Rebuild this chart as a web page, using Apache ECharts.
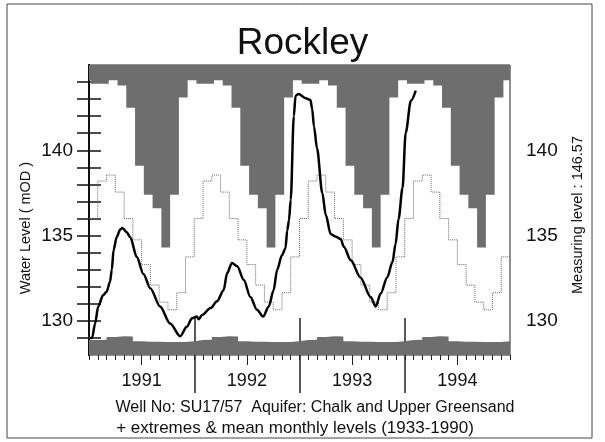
<!DOCTYPE html>
<html>
<head>
<meta charset="utf-8">
<title>Rockley</title>
<script src="https://cdn.jsdelivr.net/npm/echarts@6/dist/echarts.min.js"></script>
<style>
  html, body { margin: 0; padding: 0; background: #fff; }
  #chart { width: 605px; height: 442px; }
</style>
</head>
<body>
<div id="chart"></div>
<script>
// years shown on the x axis (x = months since Jan 1991)
var years = [1991, 1992, 1993, 1994];
var yearMidTicks = [6, 18, 30, 42];
var yearBounds = [12, 24, 36];

// y axis ticks (mOD)
var yTicks = [129, 130, 131, 132, 133, 134, 135, 136, 137, 138, 139, 140, 141, 142, 143, 144];
var yTickLabels = [130, 135, 140];

// extremes & mean monthly levels 1933-1990 (Jan..Dec)
var maxMonthly = [143.9, 143.9, 144.1, 143.8, 142.5, 139.1, 137.4, 136.6, 134.3, 137.4, 143.1, 144.1];
var meanMonthly = [136.0, 138.2, 138.55, 137.55, 136.0, 134.75, 133.3, 132.1, 131.1, 130.65, 131.65, 133.75];
var minMonthly = [128.88, 128.9, 129.05, 129.1, 129.08, 128.8, 128.78, 128.77, 128.76, 128.76, 128.76, 128.8];

// observed water level 1991 - early 1994
var obsMonth = [0.1, 0.35, 0.7, 1.05, 1.6, 2.0, 2.4, 2.6, 2.8, 3.15, 3.55, 3.8, 4.3, 4.7, 5.45,
  6.2, 7.0, 8.1, 9.25, 10.4, 11.15, 11.75, 12.3, 12.5, 12.9, 13.85, 14.6, 15.35, 15.75, 16.3,
  16.9, 17.65, 18.4, 19.15, 19.85, 20.5, 21.05, 21.45, 22.0, 22.4, 22.6, 22.8, 23.0, 23.35, 23.55,
  23.9, 24.7, 25.25, 25.45, 25.65, 26.0, 26.6, 27.0, 27.55, 28.1, 28.7, 29.05, 29.85, 30.95, 32.1,
  32.7, 33.25, 34.0, 34.6, 34.95, 35.3, 35.75, 36.1, 36.7, 37.25];
var obsLevel = [129.0, 129.0, 129.85, 130.85, 131.5, 131.7, 132.3, 133.0, 134.15, 134.9, 135.35, 135.45, 135.2, 134.9, 133.75,
  132.75, 131.9, 130.85, 129.85, 129.1, 129.65, 130.15, 130.25, 130.1, 130.35, 130.75, 131.15, 131.8, 132.8, 133.4,
  133.2, 132.4, 131.4, 130.65, 130.25, 130.85, 131.8, 133.0, 133.85, 134.25, 135.3, 135.9, 137.1, 142.0, 143.2,
  143.3, 143.05, 142.95, 142.4, 141.4, 140.1, 137.5, 136.2, 135.1, 134.95, 134.8, 134.35, 133.55, 132.55, 131.4,
  130.85, 131.6, 132.55, 133.45, 134.5, 136.0, 137.8, 141.0, 142.9, 143.5];

var FONT = '"Liberation Sans", Arial, Helvetica, sans-serif';
var maxShift = 0.25; // max steps sit a little right of the month boundary in the original

// monthly step series over the 4 years
function monthlySteps(values, shift) {
  var pts = [];
  if (shift) pts.push([0, values[11]]);
  for (var m = 0; m < years.length * 12; m++) {
    pts.push([m + shift, values[m % 12]]);
  }
  pts.push([years.length * 12, values[11]]);
  return pts;
}

var observed = obsMonth.map(function (m, i) { return [m, obsLevel[i]]; });

var chart = echarts.init(document.getElementById('chart'), null, { renderer: 'canvas' });

function xAxisBase(extra) {
  var a = {
    type: 'value', min: 0, max: 48, position: 'bottom', gridIndex: 0,
    axisLine: { show: false },
    axisTick: { show: false },
    axisLabel: { show: false },
    splitLine: { show: false }
  };
  return Object.assign(a, extra);
}

function yAxisBase(pos) {
  return {
    type: 'value', min: 128, max: 145, interval: 1, position: pos,
    axisLine: { show: true, lineStyle: { color: '#111', width: 2 } },
    axisTick: { show: true, customValues: yTicks, length: 12, lineStyle: { color: '#111', width: 1.5 } },
    axisLabel: {
      customValues: yTickLabels, fontSize: 19, color: '#111', fontFamily: FONT, margin: 16
    },
    splitLine: { show: false }
  };
}

var option = {
  animation: false,
  backgroundColor: '#fff',
  title: {
    text: 'Rockley', left: 'center', top: 20,
    textStyle: { fontSize: 37, fontWeight: 'normal', color: '#111', fontFamily: FONT }
  },
  grid: {
    left: 89, right: 95, top: 65, bottom: 87,
    show: true, borderColor: '#222', borderWidth: 1, backgroundColor: 'transparent'
  },
  xAxis: [
    // monthly ticks
    xAxisBase({
      interval: 1,
      axisTick: { show: true, length: 5, lineStyle: { color: '#222', width: 1 } }
    }),
    // mid-year ticks + year labels
    xAxisBase({
      axisTick: { show: true, customValues: yearMidTicks, length: 10, lineStyle: { color: '#222', width: 1 } },
      axisLabel: {
        show: true, customValues: yearMidTicks, margin: 17, fontSize: 18, color: '#111', fontFamily: FONT,
        formatter: function (v) { return String(years[yearMidTicks.indexOf(v)]); }
      }
    }),
    // year separators, inside part
    xAxisBase({
      axisTick: { show: true, inside: true, customValues: yearBounds, length: 37, lineStyle: { color: '#222', width: 1.5 } }
    }),
    // year separators, outside part
    xAxisBase({
      axisTick: { show: true, customValues: yearBounds, length: 38, lineStyle: { color: '#222', width: 1.5 } }
    })
  ],
  yAxis: [yAxisBase('left'), yAxisBase('right')],
  series: [
    {
      name: 'max', type: 'line', step: 'end', symbol: 'none',
      data: monthlySteps(maxMonthly, maxShift),
      lineStyle: { width: 0 },
      areaStyle: { origin: 'end', color: '#6e6e6e', opacity: 1 },
      z: 1
    },
    {
      name: 'min', type: 'line', step: 'end', symbol: 'none',
      data: monthlySteps(minMonthly, 0),
      lineStyle: { width: 0 },
      areaStyle: { origin: 'start', color: '#6e6e6e', opacity: 1 },
      z: 1
    },
    {
      name: 'mean', type: 'line', step: 'end', symbol: 'none',
      data: monthlySteps(meanMonthly, 0),
      lineStyle: { color: '#666', width: 1, type: 'dotted' },
      z: 2
    },
    {
      name: 'observed', type: 'line', symbol: 'none', smooth: 0.3, smoothMonotone: 'x',
      data: observed,
      lineStyle: { color: '#000', width: 2.5 },
      z: 3
    }
  ],
  graphic: [
    // outer frame
    {
      type: 'rect', shape: { x: 7, y: 4, width: 585, height: 434 },
      style: { fill: 'none', stroke: '#444', lineWidth: 1 }, silent: true, z: -1
    },
    {
      type: 'text', x: 26, y: 228, rotation: Math.PI / 2,
      style: { text: 'Water Level ( mOD )', font: '14.5px ' + FONT, fill: '#111', align: 'center', verticalAlign: 'middle' }
    },
    {
      type: 'text', x: 578, y: 215, rotation: Math.PI / 2,
      style: { text: 'Measuring level : 146.57', font: '14.5px ' + FONT, fill: '#111', align: 'center', verticalAlign: 'middle' }
    },
    {
      type: 'text', x: 315, y: 408,
      style: { text: 'Well No: SU17/57  Aquifer: Chalk and Upper Greensand', font: '16px ' + FONT, fill: '#111', align: 'center', verticalAlign: 'middle' }
    },
    {
      type: 'text', x: 295, y: 428,
      style: { text: '+ extremes & mean monthly levels (1933-1990)', font: '17px ' + FONT, fill: '#111', align: 'center', verticalAlign: 'middle' }
    }
  ]
};

chart.setOption(option);
</script>
</body>
</html>
